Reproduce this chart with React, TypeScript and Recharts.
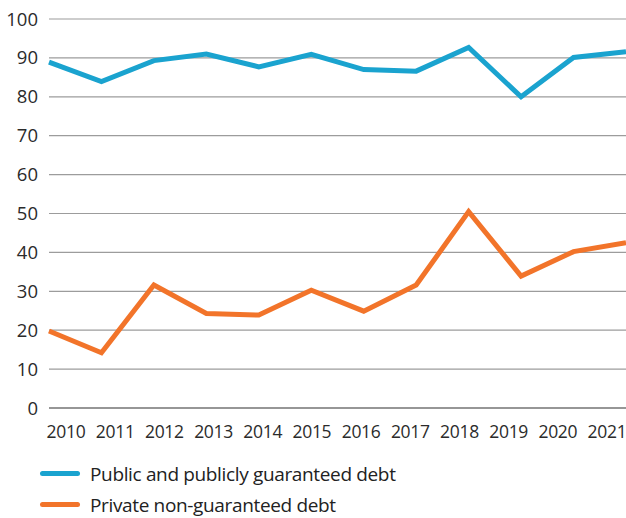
import { LineChart, Line, XAxis, YAxis, CartesianGrid, Legend } from "recharts";

const years = ["2010", "2011", "2012", "2013", "2014", "2015", "2016", "2017", "2018", "2019", "2020", "2021"];
const publicDebt = [88.9, 83.9, 89.3, 91.0, 87.7, 90.9, 87.0, 86.6, 92.7, 80.0, 90.1, 91.6];
const privateDebt = [19.8, 14.2, 31.6, 24.3, 23.9, 30.3, 24.9, 31.6, 50.5, 33.9, 40.2, 42.5];
const yTicks = [0, 10, 20, 30, 40, 50, 60, 70, 80, 90, 100];

const BLUE = "#1aa3cf";
const ORANGE = "#f2742a";
const FONT = "'Open Sans', sans-serif";

const data = years.map((year, i) => ({
  year,
  public: publicDebt[i],
  private: privateDebt[i],
}));

const series = [
  { key: "public", name: "Public and publicly guaranteed debt", color: BLUE },
  { key: "private", name: "Private non-guaranteed debt", color: ORANGE },
];

// year labels sit slightly inward from the data points, like the source chart
function YearTick(props: any) {
  const { x, y, payload } = props;
  const shift = 17 - payload.index * 3.27;
  return (
    <text x={x + shift} y={y + 30} textAnchor="middle" fill="#2b2b2b" fontSize={17.5} letterSpacing={-0.3} fontFamily={FONT}>
      {payload.value}
    </text>
  );
}

function LegendBox() {
  return (
    <div style={{ fontFamily: FONT, fontSize: 19, letterSpacing: -0.35, color: "#222", paddingTop: 18 }}>
      {series.map((s) => (
        <div key={s.key} style={{ display: "flex", alignItems: "center", height: 31, marginLeft: 40 }}>
          <span style={{ width: 40, height: 5, background: s.color, borderRadius: 3, marginRight: 10 }} />
          <span>{s.name}</span>
        </div>
      ))}
    </div>
  );
}

export default function App() {
  return (
    <div style={{ position: "absolute", left: 0, top: 0, width: 626, height: 518, background: "#fff" }}>
      <LineChart width={626} height={518} data={data} margin={{ top: 19, right: 0, left: 0, bottom: 0 }}>
        <CartesianGrid vertical={false} stroke="#9c9c9c" strokeWidth={1.2} />
        <XAxis
          dataKey="year"
          axisLine={{ stroke: "#969696", strokeWidth: 2 }}
          tickLine={false}
          tickSize={0}
          tickMargin={0}
          height={32}
          interval={0}
          tick={<YearTick />}
        />
        <YAxis
          domain={[0, 100]}
          ticks={yTicks}
          width={49}
          axisLine={false}
          tickLine={false}
          tickSize={0}
          tickMargin={11}
          tick={{ fill: "#2b2b2b", fontSize: 18.5, fontFamily: FONT }}
        />
        <Legend verticalAlign="bottom" align="left" height={78} content={<LegendBox />} />
        {series.map((s) => (
          <Line
            key={s.key}
            type="linear"
            dataKey={s.key}
            name={s.name}
            stroke={s.color}
            strokeWidth={5}
            strokeLinejoin="miter"
            dot={false}
            activeDot={false}
            isAnimationActive={false}
          />
        ))}
      </LineChart>
    </div>
  );
}
